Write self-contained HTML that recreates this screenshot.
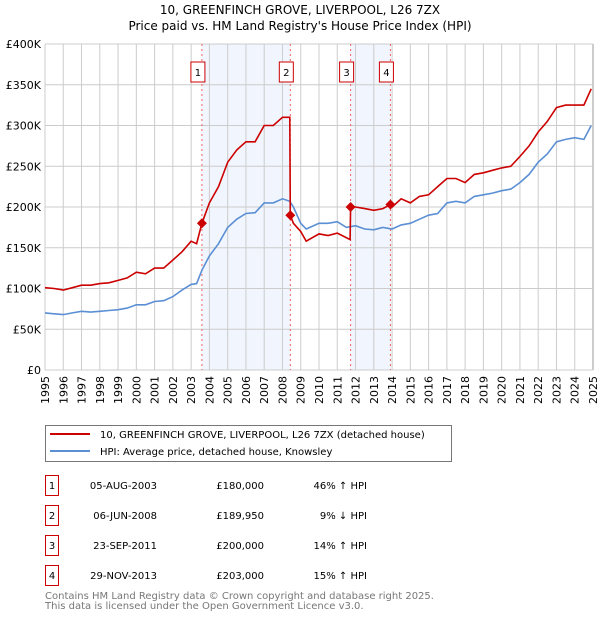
<!DOCTYPE html>
<html><head><meta charset="utf-8"><style>
body{margin:0;background:#fff;font-family:"DejaVu Sans","Liberation Sans",sans-serif;}
svg{display:block}
</style></head><body>
<svg id="c" width="600" height="620" xmlns="http://www.w3.org/2000/svg" font-family="DejaVu Sans, Liberation Sans, sans-serif">
<text x="300" y="14" text-anchor="middle" font-size="12">10, GREENFINCH GROVE, LIVERPOOL, L26 7ZX</text>
<text x="300" y="30" text-anchor="middle" font-size="12">Price paid vs. HM Land Registry's House Price Index (HPI)</text>
<g id="plot"></g>
<g>
<rect x="45.5" y="425.5" width="406" height="36" fill="#fff" stroke="#777"/>
<line x1="50" y1="434" x2="90" y2="434" stroke="#cc0000" stroke-width="2"/>
<text x="100" y="438" font-size="10">10, GREENFINCH GROVE, LIVERPOOL, L26 7ZX (detached house)</text>
<line x1="50" y1="451" x2="90" y2="451" stroke="#5b8fd4" stroke-width="2"/>
<text x="100" y="455" font-size="10">HPI: Average price, detached house, Knowsley</text>
</g>
<g id="tbl"></g>
<text x="45" y="599" font-size="10" fill="#777">Contains HM Land Registry data © Crown copyright and database right 2025.</text>
<text x="45" y="609" font-size="10" fill="#777">This data is licensed under the Open Government Licence v3.0.</text>
</svg>
<script>
const hpiYears=[1995,1995.5,1996,1996.5,1997,1997.5,1998,1998.5,1999,1999.5,2000,2000.5,2001,2001.5,2002,2002.5,2003,2003.3,2003.6,2004,2004.5,2005,2005.5,2006,2006.5,2007,2007.5,2008,2008.4,2008.6,2009,2009.3,2010,2010.5,2011,2011.5,2012,2012.5,2013,2013.5,2014,2014.5,2015,2015.5,2016,2016.5,2017,2017.5,2018,2018.5,2019,2019.5,2020,2020.5,2021,2021.5,2022,2022.5,2023,2023.5,2024,2024.5,2024.9];
const hpiValues=[70,69,68,70,72,71,72,73,74,76,80,80,84,85,90,98,105,106,123,140,155,175,185,192,193,205,205,210,207,200,180,173,180,180,182,175,177,173,172,175,173,178,180,185,190,192,205,207,205,213,215,217,220,222,230,240,255,265,280,283,285,283,300];
const propYears=[1995,1995.5,1996,1996.5,1997,1997.5,1998,1998.5,1999,1999.5,2000,2000.5,2001,2001.5,2002,2002.5,2003,2003.3,2003.59,2004,2004.5,2005,2005.5,2006,2006.5,2007,2007.5,2008,2008.4,2008.43,2008.6,2009,2009.3,2010,2010.5,2011,2011.7,2011.73,2012,2012.5,2013,2013.5,2013.91,2014,2014.5,2015,2015.5,2016,2016.5,2017,2017.5,2018,2018.5,2019,2019.5,2020,2020.5,2021,2021.5,2022,2022.5,2023,2023.5,2024,2024.5,2024.9];
const propValues=[101,100,98,101,104,104,106,107,110,113,120,118,125,125,135,145,158,155,180,205,225,255,270,280,280,300,300,310,310,190,180,170,158,167,165,168,160,200,200,198,196,198,203,200,210,205,213,215,225,235,235,230,240,242,245,248,250,262,275,292,305,322,325,325,325,345];
const saleLabels=["1","2","3","4"];
const saleYears=[2003.59,2008.43,2011.73,2013.91];
const saleValues=[180,189.95,200,203];
const saleDates=["05-AUG-2003","06-JUN-2008","23-SEP-2011","29-NOV-2013"];
const salePrices=["£180,000","£189,950","£200,000","£203,000"];
const saleHpi=["46% ↑ HPI","9% ↓ HPI","14% ↑ HPI","15% ↑ HPI"];
const yTicks=[0,50,100,150,200,250,300,350,400];
const yTickLabels=["£0","£50K","£100K","£150K","£200K","£250K","£300K","£350K","£400K"];

const NS="http://www.w3.org/2000/svg";
const X0=45,X1=593,Y0=370,Y1=44;
const xs=y=>X0+(y-1995)/30*(X1-X0);
const ys=v=>Y0-v/400*(Y0-Y1);
const plot=document.getElementById('plot');
function mk(tag,attrs,parent){const e=document.createElementNS(NS,tag);for(const k in attrs)e.setAttribute(k,attrs[k]);(parent||plot).appendChild(e);return e;}
for(let i=0;i<4;i+=2){
  const r=mk('rect',{x:xs(saleYears[i]),y:Y1,width:xs(saleYears[i+1])-xs(saleYears[i]),height:Y0-Y1,fill:'#eef3fc',opacity:0.8});
  
  
}
for(let yr=1995;yr<=2025;yr++){
  const l=mk('line',{x1:xs(yr),x2:xs(yr),y1:Y1,y2:Y0,stroke:'#ccc','stroke-width':1});
  
  
  const px=(xs(yr)+4).toFixed(1), py=Y0+6;
  const t=mk('text',{x:px,y:py,'font-size':11,'text-anchor':'end',transform:'rotate(-90 '+px+' '+py+')'});
  t.textContent=yr;
  
  
}
const edge=mk('line',{x1:X1,x2:X1,y1:Y1,y2:Y0,stroke:'#999','stroke-width':1});


yTicks.forEach((v,i)=>{
  const l=mk('line',{x1:X0,x2:X1,y1:ys(v),y2:ys(v),stroke:'#ccc','stroke-width':1});
  
  
  const t=mk('text',{x:X0-4,y:ys(v)+4,'font-size':11,'text-anchor':'end'});
  t.textContent=yTickLabels[i];
  
  
});
saleYears.forEach((yr,i)=>{
  const l=mk('line',{x1:xs(yr),x2:xs(yr),y1:Y1,y2:Y0,stroke:'#f06060','stroke-width':1,'stroke-dasharray':'2,3'});
  
  
  const b=mk('rect',{x:xs(yr)-11,y:62,width:14,height:20,fill:'#fff',stroke:'#cc0000'});
  
  
  const t=mk('text',{x:xs(yr)-4,y:76,'font-size':10,'text-anchor':'middle'});
  t.textContent=saleLabels[i];
  
  
});
function line(xa,va,col,name){
  const d=xa.map((x,i)=>(i?'L':'M')+xs(x).toFixed(1)+','+ys(va[i]).toFixed(1)).join('');
  const p=mk('path',{d:d,fill:'none',stroke:col,'stroke-width':1.6});
  
  
}
line(hpiYears,hpiValues,'#5b8fd4','hpi-line');
line(propYears,propValues,'#cc0000','property-line');
saleYears.forEach((yr,i)=>{
  const cx=xs(yr),cy=ys(saleValues[i]);
  const c=mk('path',{d:`M${cx-5},${cy}L${cx},${cy-5}L${cx+5},${cy}L${cx},${cy+5}Z`,fill:'#cc0000'});
  
  
});
const tbl=document.getElementById('tbl');
saleLabels.forEach((lb,i)=>{
  const y=475+i*30;
  const b=mk('rect',{x:45.5,y:y+0.5,width:13,height:20,fill:'#fff',stroke:'#cc0000'},tbl);
  
  
  const cells=[[52,lb,'middle'],[157,saleDates[i],'end'],[264,salePrices[i],'end'],[367,saleHpi[i],'end']];
  cells.forEach((c,j)=>{
    const t=mk('text',{x:c[0],y:y+14,'font-size':10,'text-anchor':c[2]},tbl);
    t.textContent=c[1];
    
    
  });
});
</script>
</body></html>
